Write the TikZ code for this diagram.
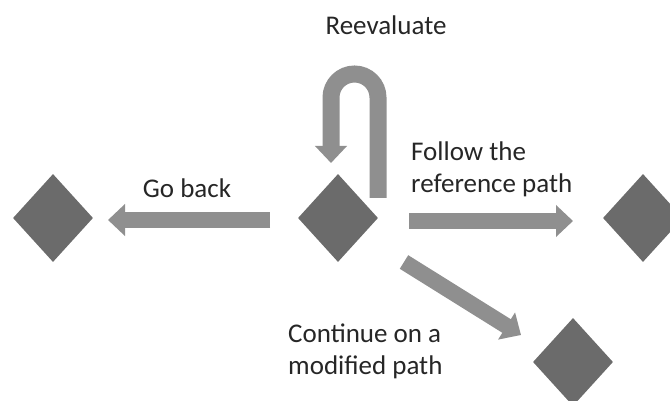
\documentclass[tikz,border=0pt]{standalone}
\usepackage{fontspec}
\setmainfont{Carlito}
\usetikzlibrary{shapes.geometric,arrows.meta}
\definecolor{diagray}{HTML}{6B6B6B}
\definecolor{arrgray}{HTML}{8F8F8F}
\definecolor{txtgray}{HTML}{262626}
\tikzset{
  dia/.style={diamond,fill=diagray,draw=none,minimum width=80pt,minimum height=88pt,inner sep=0pt},
  bigarrow/.style={draw=arrgray,line width=16pt,-{Triangle[length=17pt,width=31pt]}},
  lbl/.style={font=\fontsize{27}{32}\selectfont,text=txtgray,inner sep=0pt}
}
\begin{document}
\begin{tikzpicture}[x=1pt,y=1pt]
\useasboundingbox (0,0) rectangle (670,401);
% diamonds
\node[dia] (L) at (53,183) {};
\node[dia] (C) at (338,183) {};
\node[dia] (R) at (643,183) {};
\node[dia] (B) at (573,39) {};
% arrow endpoints
\coordinate (gbS) at (270,181);
\coordinate (gbE) at (108,181);
\coordinate (frS) at (409,180);
\coordinate (frE) at (573,180);
\coordinate (mdS) at (404,139);
\coordinate (mdE) at (521,66);
\coordinate (reS) at (378,203);
\coordinate (reE) at (331,238);
% arrows
\draw[bigarrow] (gbS) -- (gbE);
\draw[bigarrow] (frS) -- (frE);
\draw[bigarrow] (mdS) -- (mdE);
\draw[bigarrow,line width=17pt] (reS) -- (378,303.5) arc[start angle=0,end angle=180,radius=23.5] -- (reE);
% labels
\node[lbl] (t1) at (386,376) {Reevaluate};
\node[lbl] (t2) at (187,213) {Go back};
\node[lbl,anchor=west,align=left] (t3) at (411,232) {Follow the\\reference path};
\node[lbl,anchor=west,align=left] (t4) at (288,50) {Continue on a\\modified path};
\end{tikzpicture}
\end{document}
